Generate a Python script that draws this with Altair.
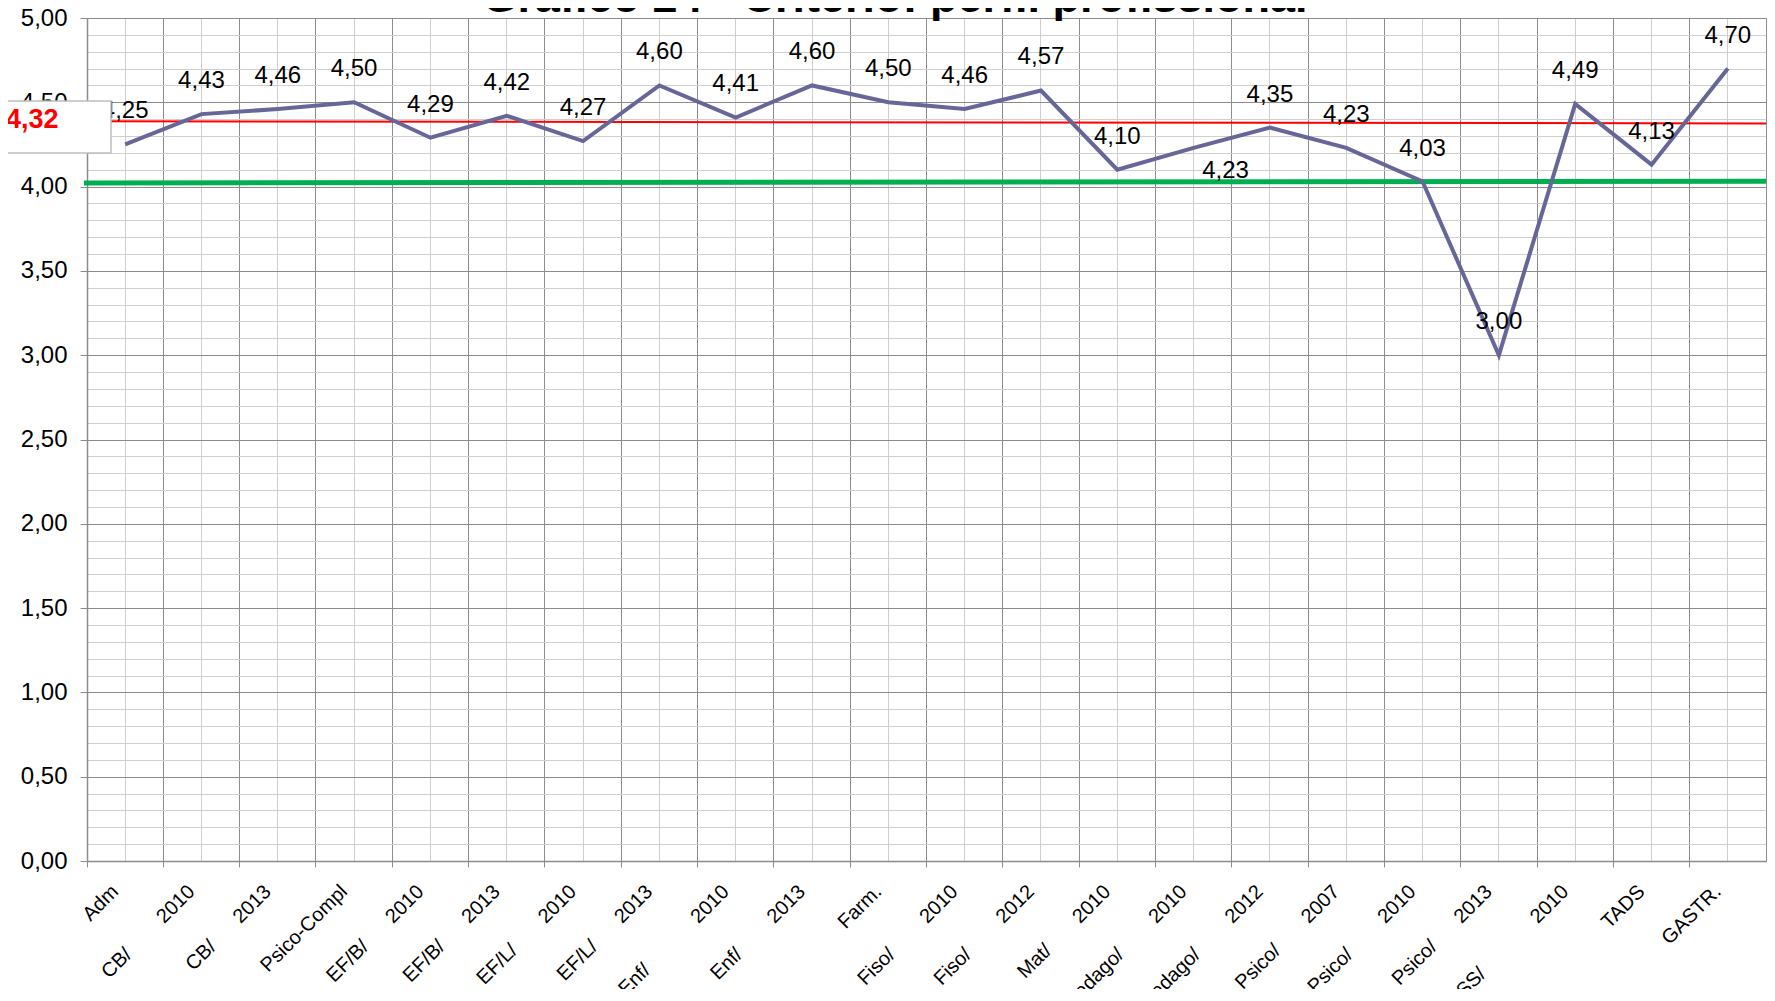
import altair as alt
import pandas as pd

# ---------------- data ----------------
categories = ["Adm", "CB/ 2010", "CB/ 2013", "Psico-Compl", "EF/B/ 2010", "EF/B/ 2013",
              "EF/L/ 2010", "EF/L/ 2013", "Enf/ 2010", "Enf/ 2013", "Farm.", "Fiso/ 2010",
              "Fiso/ 2012", "Mat/ 2010", "Pedago/ 2010", "Pedago/ 2012", "Psico/ 2007",
              "Psico/ 2010", "Psico/ 2013", "SS/ 2010", "TADS", "GASTR."]
label_gaps = [1, 8, 6, 1, 6, 6, 7, 6, 12, 8, 1, 8, 8, 7, 8, 8, 7, 8, 6, 13, 1, 1]
values = [4.25, 4.43, 4.46, 4.50, 4.29, 4.42, 4.27, 4.60, 4.41, 4.60, 4.50,
          4.46, 4.57, 4.10, 4.23, 4.35, 4.23, 4.03, 3.00, 4.49, 4.13, 4.70]
shifted_label = "Pedago/ 2010"
mean_label = ["4,32"]
red_line = [4.387, 4.375]
green_line = [4.022, 4.032]
y_major = [0.0, 0.5, 1.0, 1.5, 2.0, 2.5, 3.0, 3.5, 4.0, 4.5, 5.0]
y_minor = [round(i / 10, 1) for i in range(1, 50) if i % 5 != 0]
title_text = ["Gráfico 24 - Critério: perfil profissional"]

FONT = "Liberation Sans"
W, H = 1679, 843

tick_labels = [c.replace(" ", "\u00a0" * g) for c, g in zip(categories, label_gaps)]
df = pd.DataFrame({
    "cat": tick_labels,
    "value": values,
    "label": [f"{v:.2f}".replace(".", ",") for v in values],
    "shift": [c == shifted_label for c in categories],
})

x_scale = alt.Scale(type="band", domain=tick_labels, paddingInner=0, paddingOuter=0)
y_scale = alt.Scale(domain=[0, 5], nice=False, zero=True)

x_bound_axis = alt.Axis(orient="bottom", bandPosition=0, grid=True, gridColor="#8c8c8c",
                        gridWidth=1, ticks=True, tickSize=6, tickColor="#8c8c8c",
                        labels=False, domain=True, domainColor="#8c8c8c", domainWidth=1.5)
x_center_axis = alt.Axis(orient="bottom", bandPosition=0.5, grid=True, gridColor="#cfcfcf",
                         gridWidth=1, ticks=False, tickSize=0, domain=False,
                         labelAngle=315, labelAlign="right", labelBaseline="top",
                         labelPadding=20, labelOffset=-17, labelFontSize=20, labelFont=FONT,
                         labelColor="black", labelOverlap=False, labelLimit=0)
y_major_axis = alt.Axis(orient="left", values=y_major, grid=True, gridColor="#8c8c8c",
                        gridWidth=1, tickSize=7, tickColor="#8c8c8c", domain=True,
                        domainColor="#8c8c8c", domainWidth=1.5,
                        labelExpr="replace(format(datum.value, '.2f'), '.', ',')",
                        labelFont=FONT, labelFontSize=24, labelColor="black", labelPadding=13)
y_minor_axis = alt.Axis(orient="left", values=y_minor, grid=True, gridColor="#cfcfcf",
                        gridWidth=1, ticks=False, labels=False, domain=False)

base = alt.Chart(df)

line = base.mark_line(color="#666699", strokeWidth=4).encode(
    x=alt.X("cat:N", scale=x_scale, axis=x_bound_axis, title=None, bandPosition=0.5),
    y=alt.Y("value:Q", scale=y_scale, axis=y_major_axis, title=None),
)

labels = base.transform_filter("!datum.shift").mark_text(
    dy=-33, fontSize=24, font=FONT, color="black", baseline="middle"
).encode(
    x=alt.X("cat:N", scale=x_scale, axis=x_center_axis, title=None, bandPosition=0.5),
    y=alt.Y("value:Q", scale=y_scale, axis=y_minor_axis, title=None),
    text="label:N",
)

labels_shift = base.transform_filter("datum.shift").mark_text(
    dx=32, dy=23, fontSize=24, font=FONT, color="black", baseline="middle"
).encode(
    x=alt.X("cat:N", scale=x_scale, axis=None, bandPosition=0.5),
    y=alt.Y("value:Q", scale=y_scale, axis=None),
    text="label:N",
)

green = alt.Chart(pd.DataFrame({"a": [green_line[0]], "b": [green_line[1]]})).mark_rule(
    color="#00b050", strokeWidth=5
).encode(
    x=alt.value(-3), x2=alt.value(W),
    y=alt.Y("a:Q", scale=y_scale, axis=None), y2="b:Q",
)

red = alt.Chart(pd.DataFrame({"a": [red_line[0]], "b": [red_line[1]]})).mark_rule(
    color="#ff0000", strokeWidth=2
).encode(
    x=alt.value(0), x2=alt.value(W),
    y=alt.Y("a:Q", scale=y_scale, axis=None), y2="b:Q",
)

box_df = pd.DataFrame({"t": mean_label})
box = alt.Chart(box_df).mark_rect(fill="white", stroke="#bfbfbf", strokeWidth=1.5).encode(
    x=alt.value(-84), x2=alt.value(24), y=alt.value(83), y2=alt.value(135)
)
box_text = alt.Chart(box_df).mark_text(
    align="left", baseline="alphabetic", fontSize=27, fontWeight="bold",
    font=FONT, color="#ff0000"
).encode(x=alt.value(-81), y=alt.value(110), text="t:N")

title = alt.Chart(pd.DataFrame({"t": title_text})).mark_text(
    align="center", baseline="alphabetic", fontSize=45, fontWeight="bold",
    font=FONT, color="black"
).encode(x=alt.value(808), y=alt.value(-6), text="t:N")

chart = alt.layer(
    green, red, line, labels, labels_shift, box, box_text, title
).resolve_axis(
    x="independent", y="independent"
).properties(
    width=W, height=H,
    autosize=alt.AutoSizeParams(type="none"),
    padding={"left": 79, "top": 10, "right": 1, "bottom": 128},
    background="white",
).configure_view(stroke="#8c8c8c", strokeWidth=1)

chart.save("out.html", embed_options={"renderer": "svg", "actions": False})
